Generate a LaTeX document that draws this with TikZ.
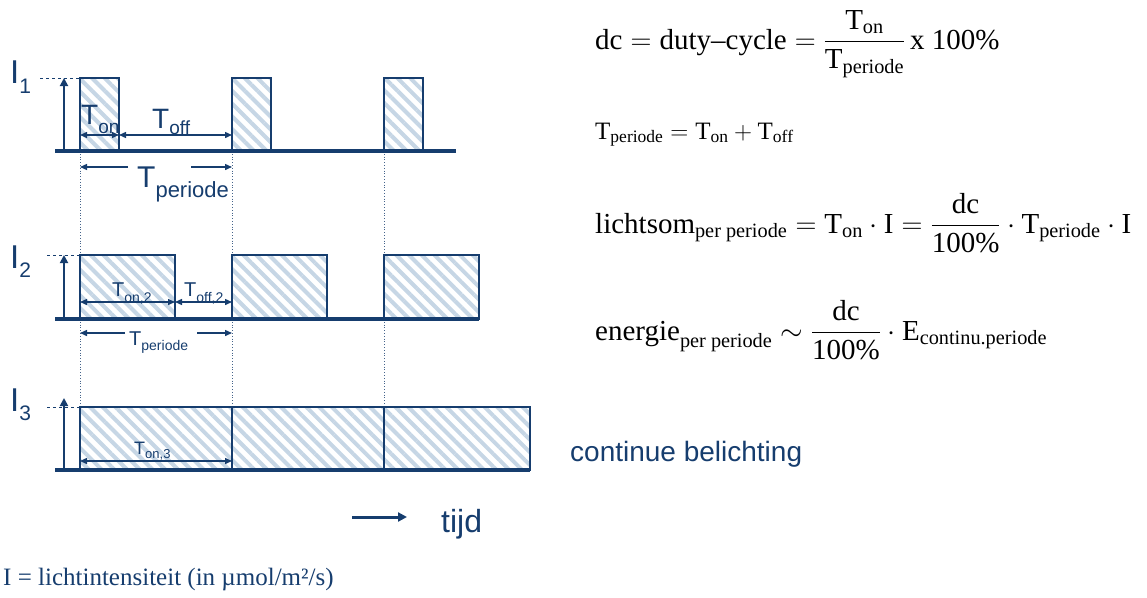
\documentclass[tikz,border=0pt]{standalone}
\usepackage{fix-cm}
\usepackage{amsmath}
\usepackage{fontspec}
\setmainfont{Liberation Serif}
\setsansfont{Liberation Sans}
\usepackage{xcolor}
\usepackage{tikz}
\usetikzlibrary{arrows.meta, patterns.meta}

\definecolor{dkblue}{RGB}{22,61,110}
\definecolor{hatch}{RGB}{198,214,229}

\pgfdeclarelayer{background}
\pgfsetlayers{background,main}

% lowered, smaller text for the labels on the left
\newcommand{\lowtxt}[3]{\raisebox{-#1pt}{\fontsize{#2pt}{#2pt}\selectfont #3}}

\begin{document}
\begin{tikzpicture}[x=1pt, y=-1pt,
  pulse/.style={draw=dkblue, line width=2.6pt, rectangle, inner sep=0pt, outer sep=0pt,
                anchor=north west, pattern={Lines[angle=-45, distance=9pt, line width=4pt]},
                pattern color=hatch},
  axis/.style={draw=dkblue, line width=3.4pt},
  lvl/.style={draw=dkblue, line width=1pt, dash pattern=on 3pt off 3pt},
  guide/.style={draw=dkblue!80, line width=0.8pt, dotted},
  uparr/.style={-{Triangle[length=8pt,width=8pt]}, draw=dkblue, line width=1.8pt},
  dim/.style={{Triangle[length=7pt,width=6pt]}-{Triangle[length=7pt,width=6pt]},
              draw=dkblue, line width=1.4pt},
  half/.style={-{Triangle[length=7pt,width=6pt]}, draw=dkblue, line width=1.4pt},
  timearr/.style={-{Triangle[length=9pt,width=9pt]}, draw=dkblue, line width=3pt},
  lbl/.style={text=dkblue, font=\sffamily, inner sep=0pt, anchor=base west},
  eq/.style={text=black, inner sep=0pt, anchor=base west},
]
\useasboundingbox (0,0) rectangle (1147,597);

%% ---- Pulses (panel 1: short on-time) ----
\node[pulse, minimum width=39pt, minimum height=73pt] (p11) at (80,78) {};
\node[pulse, minimum width=39pt, minimum height=73pt] (p12) at (232,78) {};
\node[pulse, minimum width=39pt, minimum height=73pt] (p13) at (384,78) {};

%% ---- Pulses (panel 2: longer on-time) ----
\node[pulse, minimum width=95pt, minimum height=64pt] (p21) at (80,255) {};
\node[pulse, minimum width=95pt, minimum height=64pt] (p22) at (232,255) {};
\node[pulse, minimum width=95pt, minimum height=64pt] (p23) at (384,255) {};

%% ---- Panel 3: continuous ----
\node[pulse, minimum width=152pt, minimum height=63pt] (p31) at (80,407) {};
\node[pulse, minimum width=152pt, minimum height=63pt] (p32) at (232,407) {};
\node[pulse, minimum width=146pt, minimum height=63pt] (p33) at (384,407) {};

%% ---- Dotted period guides (behind the pulses) ----
\begin{pgfonlayer}{background}
\draw[guide] (p11.south west) -- (p31.north west);
\draw[guide] (p12.south west) -- (p32.north west);
\draw[guide] (p13.south west) -- (p33.north west);
\end{pgfonlayer}

%% ---- Time axes ----
\coordinate (b1) at (55,151);
\coordinate (e1) at (456,151);
\coordinate (b2) at (55,319);
\coordinate (b3) at (55,470);
\draw[axis] (b1) -- (e1);
\draw[axis] (b2) -- (p23.south east);
\draw[axis] (b3) -- (p33.south east);

%% ---- Intensity arrows and levels ----
\coordinate (a1) at (64,151);
\coordinate (a2) at (64,319);
\coordinate (a3) at (64,470);
\coordinate (a3t) at (64,398);
\draw[uparr] (a1) -- (a1 |- p11.north);
\draw[uparr] (a2) -- (a2 |- p21.north);
\draw[uparr] (a3) -- (a3t);
\coordinate (l1) at (40,78);
\coordinate (l2) at (47,255);
\coordinate (l3) at (47,407);
\draw[lvl] (l1) -- (p11.north west);
\draw[lvl] (l2) -- (p21.north west);
\draw[lvl] (l3) -- (p31.north west);

\node[lbl] (I1) at (10,83)  {\fontsize{33}{33}\selectfont I\lowtxt{10}{21}{1}};
\node[lbl] (I2) at (10,268) {\fontsize{33}{33}\selectfont I\lowtxt{9}{21}{2}};
\node[lbl] (I3) at (10,411) {\fontsize{33}{33}\selectfont I\lowtxt{9}{21}{3}};

%% ---- Dimensions, panel 1 ----
\coordinate (d1) at (0,135);
\draw[dim] (p11.west |- d1) -- (p11.east |- d1);
\draw[dim] (p11.east |- d1) -- (p12.west |- d1);
\coordinate (tp1a) at (128,167);
\coordinate (tp1b) at (191,167);
\draw[half] (tp1a) -- (p11.west |- tp1a);
\draw[half] (tp1b) -- (p12.west |- tp1b);
\node[lbl] (ton1)  at (81,124)  {\fontsize{28}{28}\selectfont T\lowtxt{9}{19}{on}};
\node[lbl] (toff1) at (152,128) {\fontsize{28}{28}\selectfont T\lowtxt{6}{19}{off}};
\node[lbl] (tp1)   at (137,187) {\fontsize{30}{30}\selectfont T\lowtxt{10}{22}{periode}};

%% ---- Dimensions, panel 2 ----
\coordinate (d2) at (0,302);
\draw[dim] (p21.west |- d2) -- (p21.east |- d2);
\draw[dim] (p21.east |- d2) -- (p22.west |- d2);
\coordinate (tp2a) at (125,333);
\coordinate (tp2b) at (197,333);
\draw[half] (tp2a) -- (p21.west |- tp2a);
\draw[half] (tp2b) -- (p22.west |- tp2b);
\node[lbl] (ton2)  at (112,296) {\fontsize{20}{20}\selectfont T\lowtxt{6}{14}{on,2}};
\node[lbl] (toff2) at (184,296) {\fontsize{20}{20}\selectfont T\lowtxt{6}{14}{off,2}};
\node[lbl] (tp2)   at (129,345) {\fontsize{20}{20}\selectfont T\lowtxt{5}{14}{periode}};

%% ---- Dimensions, panel 3 ----
\coordinate (d3) at (0,461);
\draw[dim] (p31.west |- d3) -- (p31.east |- d3);
\node[lbl] (ton3) at (134,454) {\fontsize{18}{18}\selectfont T\lowtxt{4}{13}{on,3}};

\node[lbl] (cont) at (570,461) {\fontsize{28}{28}\selectfont continue belichting};

%% ---- Time arrow ----
\coordinate (t0) at (352,517);
\coordinate (t1) at (407,517);
\draw[timearr] (t0) -- (t1);
\node[lbl] (tijd) at (441,532) {\fontsize{32}{32}\selectfont tijd};

%% ---- Formulas ----
\node[eq] (f1) at (595,49) {\fontsize{29}{33}\selectfont
  $\text{dc} = \text{duty--cycle} = \dfrac{\text{T}_{\text{on}}}{\text{T}_{\text{periode}}}\,\text{x 100\%}$};
\node[eq] (f2) at (595,139) {\fontsize{25}{29}\selectfont
  $\text{T}_{\text{periode}} = \text{T}_{\text{on}} + \text{T}_{\text{off}}$};
\node[eq] (f3) at (595,233) {\fontsize{29}{33}\selectfont
  $\text{lichtsom}_{\text{per periode}} = \text{T}_{\text{on}}\cdot\text{I}
   = \dfrac{\text{dc}}{\text{100\%}}\cdot\text{T}_{\text{periode}}\cdot\text{I}$};
\node[eq] (f4) at (595,340) {\fontsize{29}{33}\selectfont
  $\text{energie}_{\text{per periode}} \sim \dfrac{\text{dc}}{\text{100\%}}\cdot\text{E}_{\text{continu.periode}}$};

%% ---- Legend ----
\node[lbl, font=\rmfamily] (leg) at (3,585) {\fontsize{25}{25}\selectfont I = lichtintensiteit (in µmol/m²/s)};
\end{tikzpicture}
\end{document}
